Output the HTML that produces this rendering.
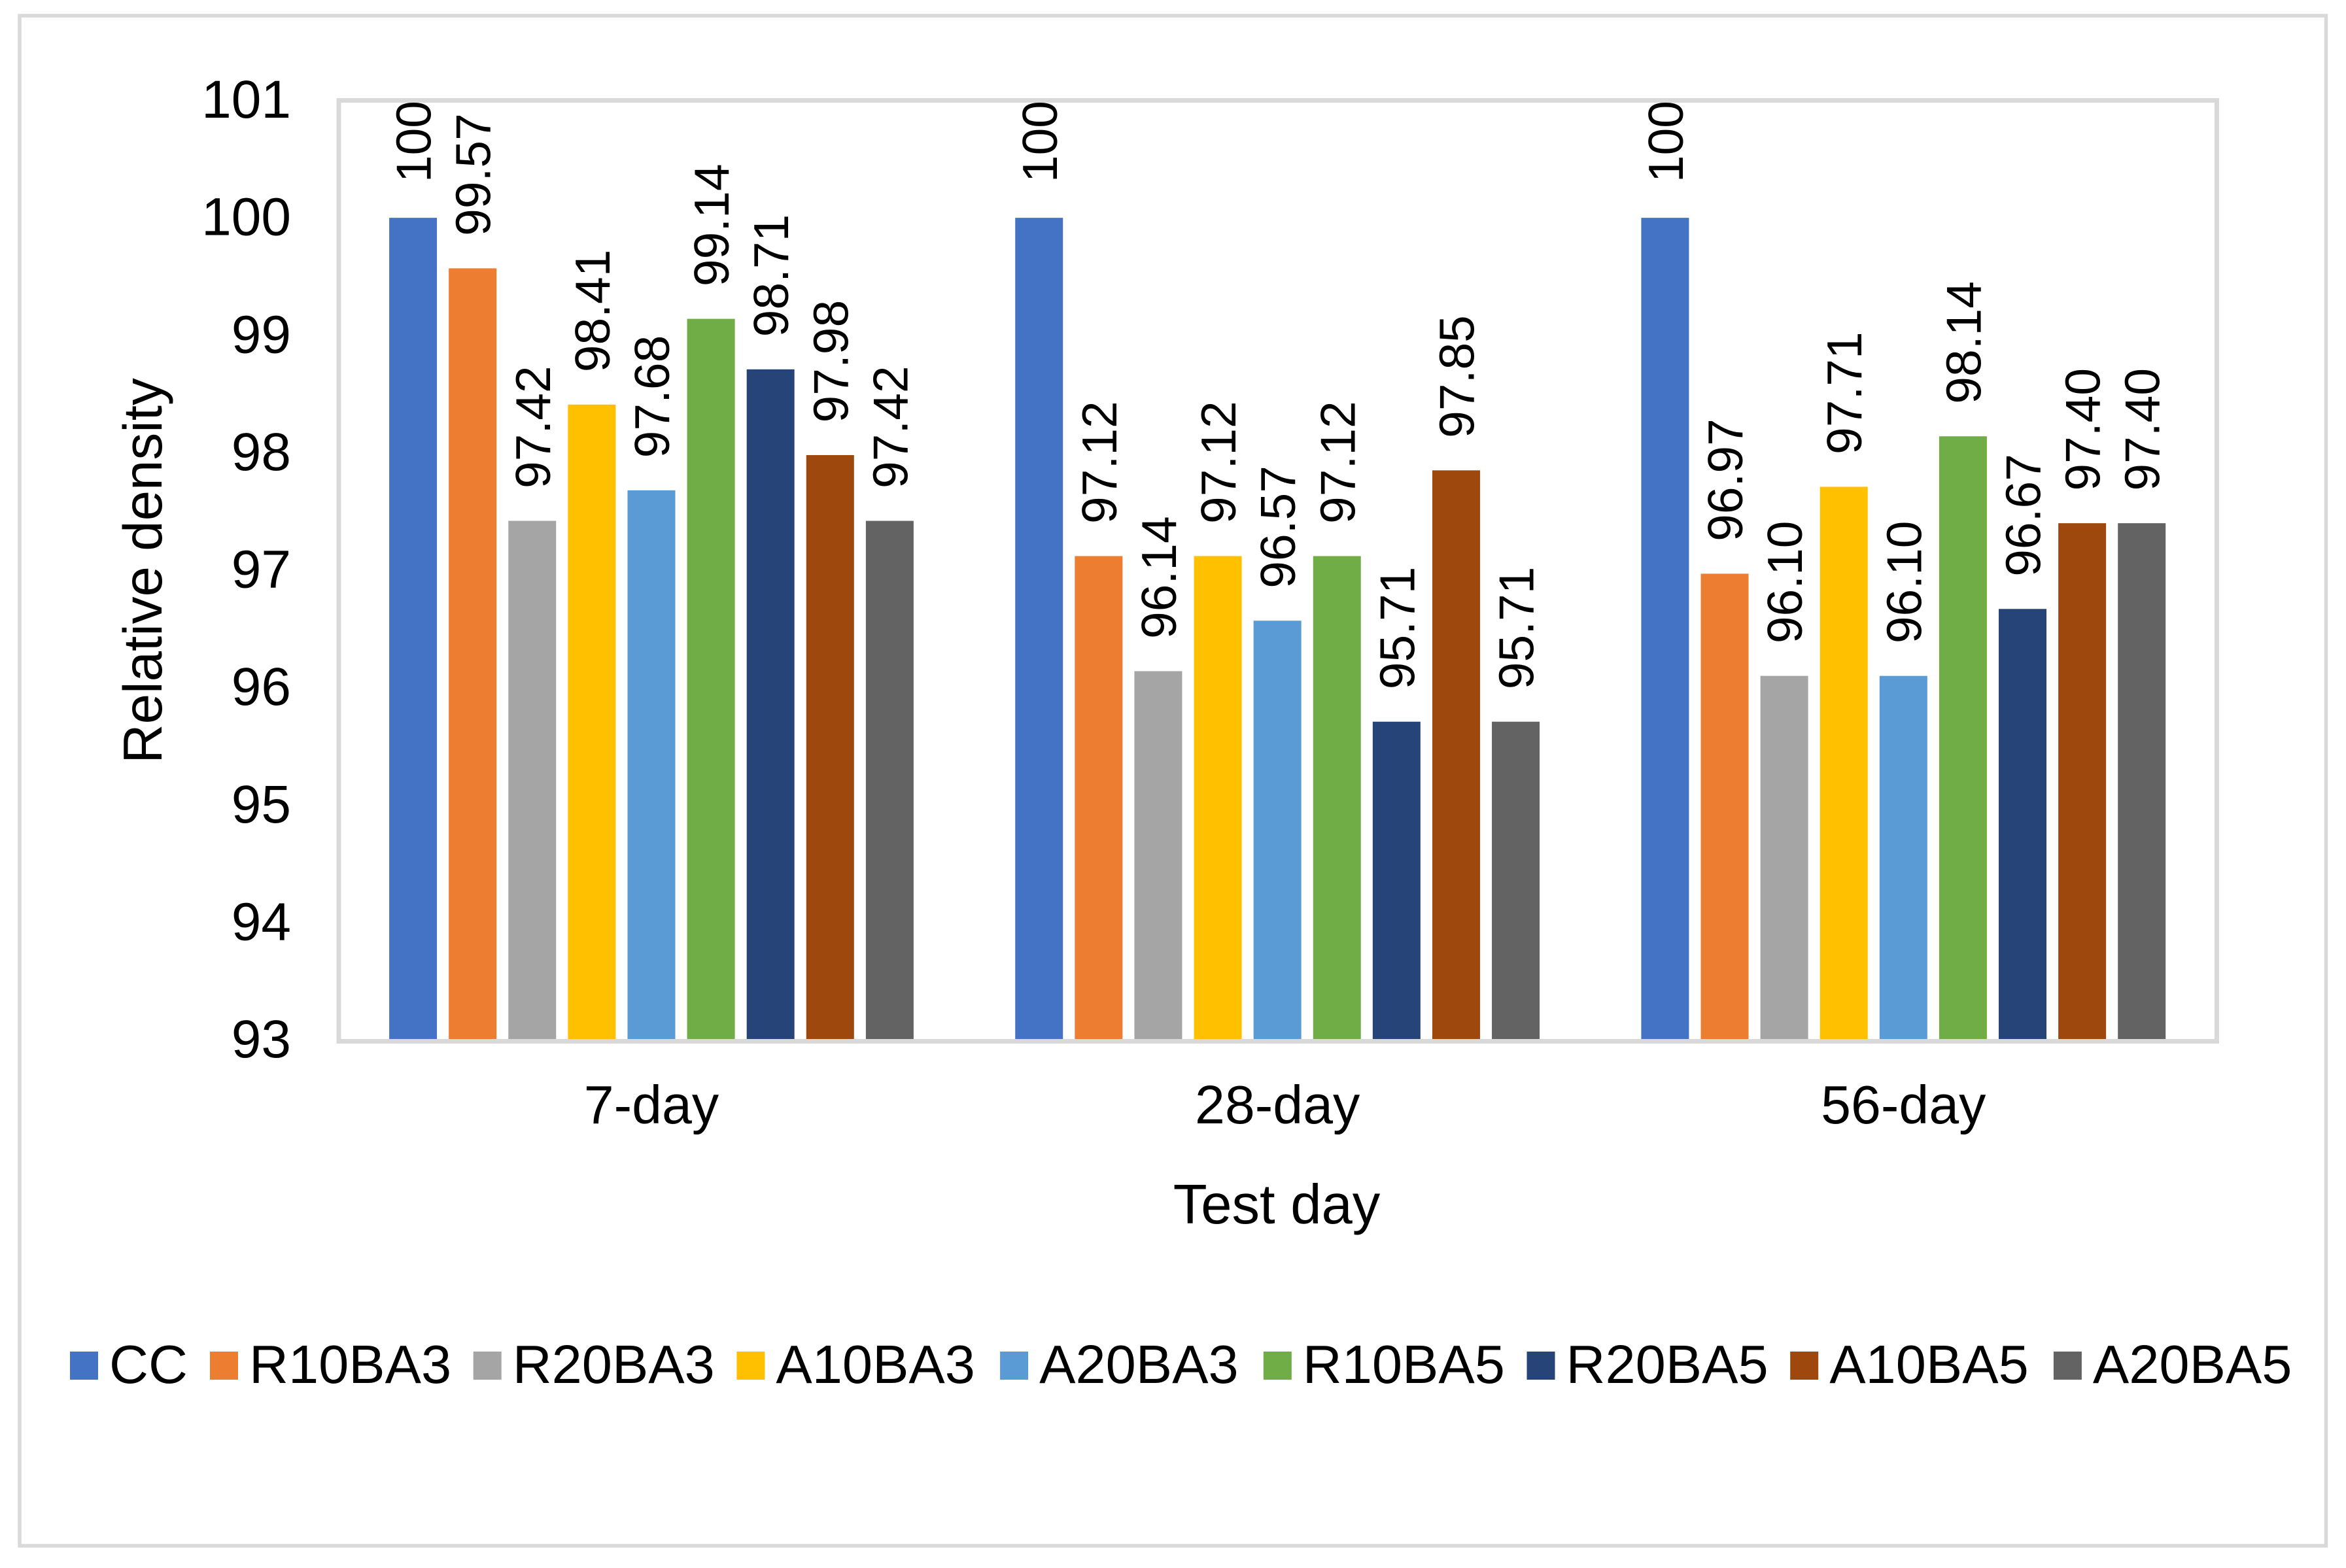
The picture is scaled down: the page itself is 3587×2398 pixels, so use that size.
<!DOCTYPE html>
<html lang="en">
<head>
<meta charset="utf-8">
<title>Relative density by test day</title>
<style>
  html, body { margin: 0; padding: 0; background: #fff; }
  svg { display: block; font-family: "Liberation Sans", Arial, sans-serif; }
  text { fill: #000; }
</style>
</head>
<body>
<svg id="chart" xmlns="http://www.w3.org/2000/svg" width="3587" height="2398" viewBox="0 0 3587 2398">
  <rect x="0" y="0" width="3587" height="2398" fill="#fff"/>
  <rect x="30" y="24" width="3526.5" height="2340" fill="none" stroke="#D9D9D9" stroke-width="5.5"/>
  <g id="bars"></g>
  <rect x="518" y="153.5" width="2871.5" height="1439" fill="none" stroke="#D9D9D9" stroke-width="7"/>
  <g id="data-labels"></g>
  <g id="y-ticks"></g>
  <g id="x-ticks"></g>
  <text transform="translate(247 873) rotate(-90)" text-anchor="middle" font-size="83.5">Relative density</text>
  <text x="1952" y="1871" text-anchor="middle" font-size="85">Test day</text>
  <g id="legend"></g>
</svg>
<script>
const categories = ['7-day', '28-day', '56-day'];
const seriesNames = ['CC', 'R10BA3', 'R20BA3', 'A10BA3', 'A20BA3', 'R10BA5', 'R20BA5', 'A10BA5', 'A20BA5'];
const seriesColors = ['#4472C4', '#ED7D31', '#A5A5A5', '#FFC000', '#5B9BD5', '#70AD47', '#264478', '#9E480E', '#636363'];
const valuesCC = [100, 100, 100];
const valuesR10BA3 = [99.57, 97.12, 96.97];
const valuesR20BA3 = [97.42, 96.14, 96.10];
const valuesA10BA3 = [98.41, 97.12, 97.71];
const valuesA20BA3 = [97.68, 96.57, 96.10];
const valuesR10BA5 = [99.14, 97.12, 98.14];
const valuesR20BA5 = [98.71, 95.71, 96.67];
const valuesA10BA5 = [97.98, 97.85, 97.40];
const valuesA20BA5 = [97.42, 95.71, 97.40];
const yTicks = [93, 94, 95, 96, 97, 98, 99, 100, 101];

const seriesValues = [valuesCC, valuesR10BA3, valuesR20BA3, valuesA10BA3, valuesA20BA3, valuesR10BA5, valuesR20BA5, valuesA10BA5, valuesA20BA5];
const SVG_NS = 'http://www.w3.org/2000/svg';
const plotLeft = 517.4, plotRight = 3388.9, yBottom = 1590.5, yTop = 153.5;
const yMin = 93, yMax = 101;
const categoryWidth = (plotRight - plotLeft) / categories.length;
const barPitch = 91.1, barWidth = 73;

function yScale(v) {
  return yBottom - (v - yMin) / (yMax - yMin) * (yBottom - yTop);
}
function categoryCenter(c) {
  return plotLeft + categoryWidth * (c + 0.5);
}
function barLeft(c, s) {
  const groupWidth = barPitch * (seriesNames.length - 1) + barWidth;
  return categoryCenter(c) - groupWidth / 2 + barPitch * s;
}
function formatValue(v) {
  return v === 100 ? '100' : v.toFixed(2);
}
function legendLeft(i) {
  return i === 0 ? 107 : 321 + 402.7 * (i - 1);
}
function make(tag, attrs, text) {
  const el = document.createElementNS(SVG_NS, tag);
  for (const k in attrs) el.setAttribute(k, attrs[k]);
  if (text !== undefined) el.textContent = text;
  return el;
}

const barsGroup = document.getElementById('bars');
const labelsGroup = document.getElementById('data-labels');
seriesNames.forEach(function (name, s) {
  categories.forEach(function (cat, c) {
    const v = seriesValues[s][c];
    const x = barLeft(c, s);
    const top = yScale(v);
    const bar = make('rect', { x: x, y: top, width: barWidth, height: yBottom - top, fill: seriesColors[s] });
    
    
    barsGroup.appendChild(bar);

    const printed = formatValue(v);
    const lx = x + barWidth / 2 + 27;
    const ly = top - (printed.length < 5 ? 54 : 49.5);
    const label = make('text', { transform: 'translate(' + lx + ' ' + ly + ') rotate(-90)', 'font-size': 75 }, printed);
    
    
    labelsGroup.appendChild(label);
  });
});

const yTicksGroup = document.getElementById('y-ticks');
yTicks.forEach(function (t) {
  const tick = make('text', { x: 445, y: yScale(t) + 26.5, 'text-anchor': 'end', 'font-size': 82 }, String(t));
  
  
  yTicksGroup.appendChild(tick);
});

const xTicksGroup = document.getElementById('x-ticks');
categories.forEach(function (cat, c) {
  const tick = make('text', { x: categoryCenter(c), y: 1718, 'text-anchor': 'middle', 'font-size': 82.5 }, cat);
  
  
  xTicksGroup.appendChild(tick);
});

const legendGroup = document.getElementById('legend');
seriesNames.forEach(function (name, i) {
  const x = legendLeft(i);
  const swatch = make('rect', { x: x, y: 2067, width: 43, height: 43, fill: seriesColors[i] });
  
  
  legendGroup.appendChild(swatch);
  const label = make('text', { x: x + 60, y: 2115, 'font-size': 83 }, name);
  
  
  legendGroup.appendChild(label);
});
</script>
</body>
</html>
